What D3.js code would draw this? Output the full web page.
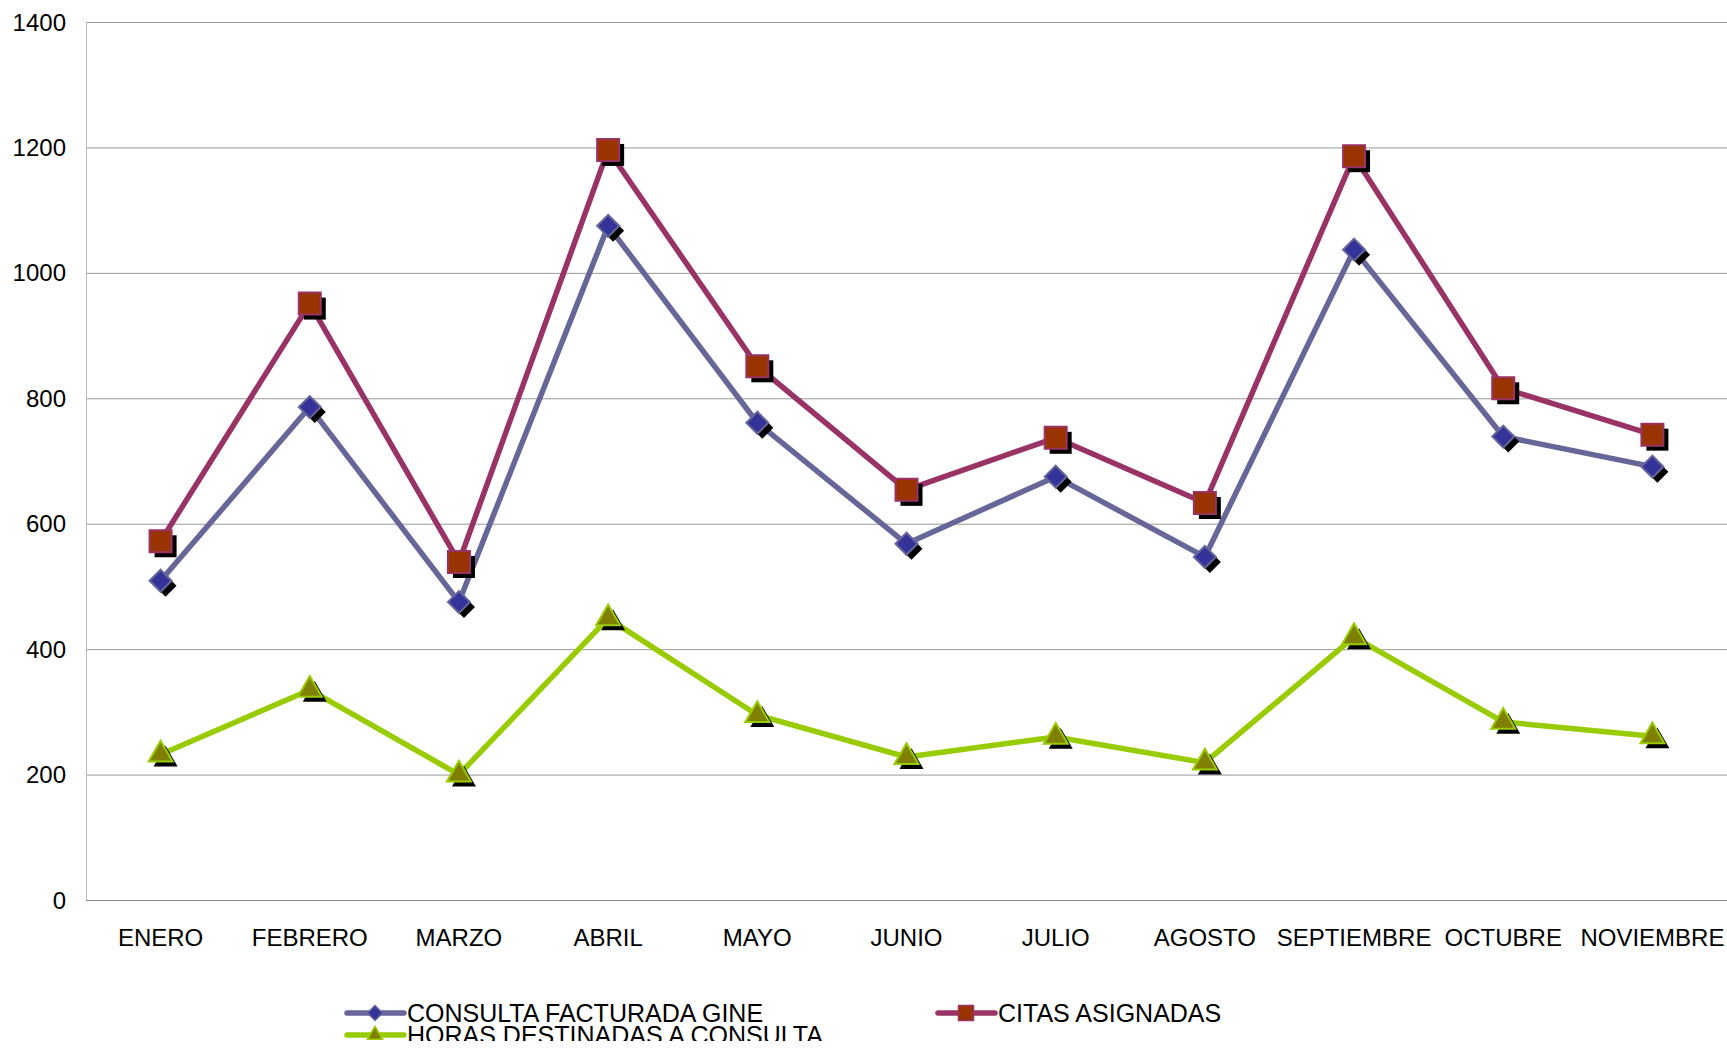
<!DOCTYPE html>
<html>
<head>
	<meta charset="utf-8">
	<script src="https://d3js.org/d3.v7.min.js"></script>
	<style>
		body { margin: 0; background: #fff; }
		svg { display: block; font-family: "Liberation Sans", Arial, sans-serif; }
	</style>
</head>
<body>
	<svg width="1727" height="1053"></svg>
	<script>
		const months = ["ENERO", "FEBRERO", "MARZO", "ABRIL", "MAYO", "JUNIO", "JULIO", "AGOSTO", "SEPTIEMBRE", "OCTUBRE", "NOVIEMBRE"];
		const seriesNames = ["CONSULTA FACTURADA GINE", "CITAS ASIGNADAS", "HORAS DESTINADAS A CONSULTA"];
		const consulta = [509, 786, 475, 1075, 761, 568, 675, 547, 1037, 739, 691];
		const citas = [572, 951, 539, 1196, 851, 654, 737, 633, 1186, 816, 742];
		const horas = [232, 335, 200, 449, 295, 228, 260, 219, 419, 284, 261];
		const yTicks = [0, 200, 400, 600, 800, 1000, 1200, 1400];

		const series = [
			{name: seriesNames[0], values: consulta, line: "#666699", fill: "#333399", shape: "diamond"},
			{name: seriesNames[1], values: citas, line: "#993366", fill: "#993300", shape: "square"},
			{name: seriesNames[2], values: horas, line: "#99cc00", fill: "#808000", shape: "triangle"}
		];

		const svg = d3.select("svg");
		const plotL = 86, plotR = 1727, plotT = 22, plotB = 900;

		const x = d3.scaleBand().domain(months).range([plotL, plotR]).padding(0);
		const y = d3.scaleLinear().domain([0, 1400]).range([plotB, plotT]);

		// gridlines
		svg.append("g").selectAll("line")
			.data(yTicks.filter(d => d > 0))
			.enter().append("line")
			.attr("x1", plotL).attr("x2", plotR)
			.attr("y1", d => y(d) + 0.5).attr("y2", d => y(d) + 0.5)
			.attr("stroke", "#999").attr("stroke-width", 1);

		// axes lines
		svg.append("line").attr("x1", plotL + 0.5).attr("x2", plotL + 0.5).attr("y1", plotT).attr("y2", plotB)
			.attr("stroke", "#bbb").attr("stroke-width", 1);
		svg.append("line").attr("x1", plotL).attr("x2", plotR).attr("y1", plotB + 0.5).attr("y2", plotB + 0.5)
			.attr("stroke", "#888").attr("stroke-width", 1);

		// y labels
		svg.append("g").selectAll("text")
			.data(yTicks)
			.enter().append("text")
			.attr("x", 66).attr("y", d => y(d))
			.attr("dy", "0.36em")
			.attr("text-anchor", "end")
			.attr("font-size", 24)
			.attr("fill", "#000")
			.text(d => d);

		// x labels
		svg.append("g").selectAll("text")
			.data(months)
			.enter().append("text")
			.attr("x", d => x(d) + x.bandwidth() / 2)
			.attr("y", 937)
			.attr("dy", "0.36em")
			.attr("text-anchor", "middle")
			.attr("font-size", 24)
			.attr("fill", "#000")
			.text(d => d);

		function markerPath(shape, s) {
			if (shape === "square") return d3.symbol(d3.symbolSquare, s * s)();
			if (shape === "diamond") return d3.symbol(d3.symbolSquare, s * s / 2)();
			return d3.symbol(d3.symbolTriangle, Math.sqrt(3) / 4 * s * s)();
		}
		function markerRot(shape) { return shape === "diamond" ? " rotate(45)" : ""; }

		const line = d3.line()
			.x((d, i) => x(months[i]) + x.bandwidth() / 2)
			.y(d => y(d));

		series.forEach(s => {
			svg.append("path")
				.datum(s.values)
				.attr("fill", "none")
				.attr("stroke", s.line)
				.attr("stroke-width", 5.5)
				.attr("stroke-linejoin", "round")
				.attr("d", line);
		});

		series.forEach(s => {
			const size = s.shape === "square" ? 22 : (s.shape === "diamond" ? 22 : 24);
			const g = svg.append("g");
			s.values.forEach((v, i) => {
				const cx = x(months[i]) + x.bandwidth() / 2, cy = y(v);
				g.append("path")
					.attr("d", markerPath(s.shape, size))
					.attr("transform", `translate(${cx + 5},${cy + 5})` + markerRot(s.shape))
					.attr("fill", "#000");
				g.append("path")
					.attr("d", markerPath(s.shape, size))
					.attr("transform", `translate(${cx},${cy})` + markerRot(s.shape))
					.attr("fill", s.fill)
					.attr("stroke", s.line)
					.attr("stroke-width", 2);
			});
		});

		// legend (clipped at bottom like the reference)
		svg.append("clipPath").attr("id", "legclip")
			.append("rect").attr("x", 0).attr("y", 980).attr("width", 1727).attr("height", 61);
		const legend = svg.append("g").attr("clip-path", "url(#legclip)");
		const legPos = [[347, 1013], [938, 1013], [347, 1035]];
		series.forEach((s, i) => {
			const [lx, ly] = legPos[i];
			legend.append("line")
				.attr("x1", lx).attr("x2", lx + 57).attr("y1", ly).attr("y2", ly)
				.attr("stroke", s.line).attr("stroke-width", 5.5).attr("stroke-linecap", "round");
			legend.append("path")
				.attr("d", markerPath(s.shape, 15))
				.attr("transform", `translate(${lx + 28},${ly})` + markerRot(s.shape))
				.attr("fill", s.fill)
				.attr("stroke", s.line)
				.attr("stroke-width", 1.5);
			legend.append("text")
				.attr("x", lx + 60).attr("y", ly)
				.attr("dy", "0.36em")
				.attr("font-size", 25)
				.attr("fill", "#000")
				.text(s.name);
		});
	</script>
</body>
</html>
